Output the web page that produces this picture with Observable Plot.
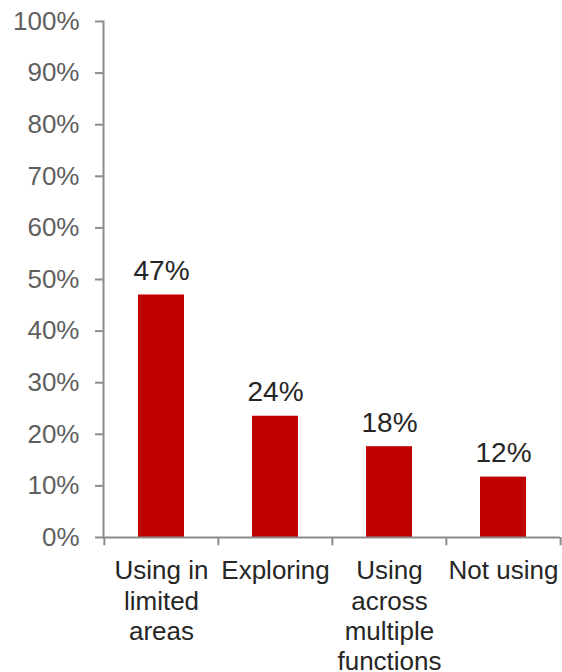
<!DOCTYPE html>
<html><head><meta charset="utf-8">
<script src="https://cdn.jsdelivr.net/npm/d3@7"></script>
<script src="https://cdn.jsdelivr.net/npm/@observablehq/plot@0.6"></script>
<style>body{margin:0;background:#fff}</style>
</head><body><div id="chart"></div>
<script>
const categories = ["Using in limited areas", "Exploring", "Using across multiple functions", "Not using"];
const categoryLabels = ["Using in\nlimited\nareas", "Exploring", "Using\nacross\nmultiple\nfunctions", "Not using"];
const values = [47, 23.5, 17.6, 11.7];
const yTicks = [0, 10, 20, 30, 40, 50, 60, 70, 80, 90, 100];

const W = 562, H = 672, ML = 103, MR = 2, MT = 21, MB = 135;
const step = (W - ML - MR) / categories.length;
const data = categories.map((c, i) => ({category: c, value: values[i]}));
const labelOf = new Map(categories.map((c, i) => [c, categoryLabels[i]]));
const axisGray = "#8c8c8c";

const chart = Plot.plot({
  width: W, height: H,
  marginLeft: ML, marginRight: MR, marginTop: MT, marginBottom: MB,
  style: {fontFamily: "'Liberation Sans', Arial, sans-serif", background: "#fff"},
  x: {domain: categories, paddingInner: 0.6, paddingOuter: 0.3, label: null, axis: null},
  y: {domain: [0, 100], label: null, axis: null},
  marks: [
    Plot.barY(data, {x: "category", y: "value", fill: "#c00000"}),
    Plot.frame({anchor: "left", stroke: axisGray, strokeWidth: 2}),
    Plot.ruleY([0], {stroke: axisGray, strokeWidth: 2}),
    Plot.ruleX(categories, {x: d => d, y1: 0, y2: -1.6, dx: -step / 2, stroke: axisGray, strokeWidth: 2}),
    Plot.ruleX([categories[categories.length - 1]], {x: d => d, y1: 0, y2: -1.6, dx: step / 2, stroke: axisGray, strokeWidth: 2}),
    Plot.axisY({ticks: yTicks, tickFormat: d => d + "%", tickSize: 8, tickPadding: 16, fontSize: 26,
      fill: "#5f5f5f", stroke: axisGray, strokeWidth: 2, label: null}),
    Plot.text(data, {x: "category", text: d => labelOf.get(d.category), frameAnchor: "bottom",
      lineAnchor: "top", dy: 20, fontSize: 26, lineHeight: 1.17, fill: "#262626"}),
    Plot.text(data, {x: "category", y: "value", text: d => Math.round(d.value) + "%",
      lineAnchor: "bottom", dy: -15, fontSize: 28, fill: "#262626"})
  ]
});
document.getElementById("chart").appendChild(chart);
</script>
</body></html>
